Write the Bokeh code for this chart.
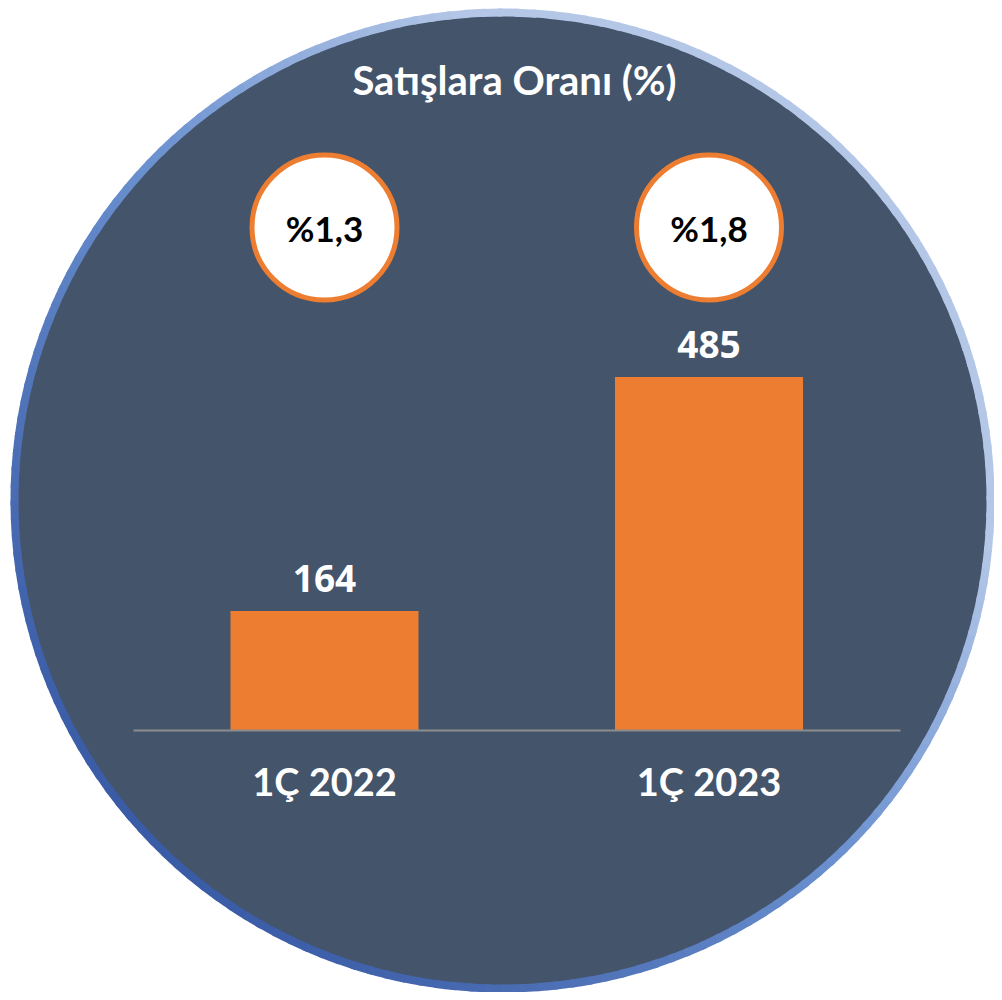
import math
from bokeh.plotting import figure
from bokeh.models import Range1d, Label, ColumnDataSource
from bokeh.core.properties import value
from bokeh.embed import file_html
from bokeh.resources import INLINE

# ---- data ----
categories = ["1Ç 2022", "1Ç 2023"]
values = [164, 485]
ratio_labels = ["%1,3", "%1,8"]
value_labels = [str(v) for v in values]
title_text = "Satışlara Oranı (%)"

# ---- styling ----
BG = "#44546A"
ORANGE = "#ED7D31"
W, H = 994, 992

PX_PER_UNIT_Y = 0.729   # screen px per value unit
BASE_Y = 730            # screen y of the bar baseline (from top)
BAR_CENTER0 = 324       # screen x of first bar centre
BAR_STEP = 384.5        # screen px between bars
BAR_W_PX = 188

def py(y_from_top):
    return H - y_from_top

x_range = Range1d((0 - BAR_CENTER0) / BAR_STEP, (W - BAR_CENTER0) / BAR_STEP)
y_range = Range1d(-(H - BASE_Y) / PX_PER_UNIT_Y, BASE_Y / PX_PER_UNIT_Y)

p = figure(width=W, height=H, x_range=x_range, y_range=y_range,
           x_axis_type=None, y_axis_type=None, output_backend="svg",
           toolbar_location=None, min_border=0)
p.extra_x_ranges = {"px": Range1d(0, W)}
p.extra_y_ranges = {"px": Range1d(0, H)}
p.background_fill_color = "white"
p.border_fill_color = "white"
p.outline_line_color = None
p.grid.visible = False

# ---- big circle background with gradient border ----
cx, cy = 502, py(500)
R_OUT = 492
BORDER = 8
p.circle(x=[cx], y=[cy], radius=R_OUT - BORDER / 2, radius_units="screen",
         fill_color=BG, line_color=None, x_range_name="px", y_range_name="px")

def lerp(c1, c2, t):
    a = [int(c1[i:i + 2], 16) for i in (1, 3, 5)]
    b = [int(c2[i:i + 2], 16) for i in (1, 3, 5)]
    return "#%02x%02x%02x" % tuple(round(a[k] + (b[k] - a[k]) * t) for k in range(3))

def grad(t):
    # t in [-1, 1]: bottom-left dark -> top-right light
    if t < 0:
        return lerp("#3A5BA6", "#6C92D0", t + 1)
    return lerp("#6C92D0", "#B4C7E7", min(1.0, t / 0.65))

N = 180
starts, ends, cols = [], [], []
for i in range(N):
    a0 = 2 * math.pi * i / N
    a1 = 2 * math.pi * (i + 1) / N + 0.01
    am = (a0 + a1) / 2
    t = (math.cos(am) + math.sin(am)) / math.sqrt(2)
    starts.append(a0)
    ends.append(a1)
    cols.append(grad(t))
p.annular_wedge(x=cx, y=cy, inner_radius=R_OUT - BORDER, outer_radius=R_OUT,
                inner_radius_units="screen", outer_radius_units="screen",
                start_angle=starts, end_angle=ends, fill_color=cols, line_color=None,
                x_range_name="px", y_range_name="px")

# ---- bars ----
xs = list(range(len(categories)))
src = ColumnDataSource(dict(x=xs, top=values, cat=categories, lab=value_labels,
                            ratio=ratio_labels,
                            ry=[py(227)] * len(categories)))
p.vbar(x="x", top="top", bottom=0, width=BAR_W_PX / BAR_STEP, source=src,
       fill_color=ORANGE, line_color=None)

# baseline
p.segment(x0=[133], x1=[900], y0=[py(BASE_Y)], y1=[py(BASE_Y)],
          line_color="#8C8C8C", line_width=2, x_range_name="px", y_range_name="px")

# value labels
p.text(x="x", y="top", text="lab", source=src, text_align="center",
       text_baseline="middle", y_offset=-32, text_color="white",
       text_font=value("Open Sans"), text_font_style="bold", text_font_size="37px")

# category labels
p.text(x="x", y=0, text="cat", source=src, text_align="center",
       text_baseline="middle", y_offset=50, text_color="white",
       text_font=value("Lato"), text_font_style="bold", text_font_size="38px")

# ratio circles
p.scatter(x="x", y="ry", source=src, marker="circle", size=145,
          fill_color="white", line_color=ORANGE, line_width=5, y_range_name="px")
p.text(x="x", y="ry", text="ratio", source=src, text_align="center",
       text_baseline="middle", text_color="black",
       text_font=value("Lato"), text_font_style="bold", text_font_size="35px",
       y_range_name="px")

# title
p.add_layout(Label(x=514, y=py(79), text=title_text, text_align="center",
                   text_baseline="middle", text_color="white",
                   text_font="Lato", text_font_style="bold", text_font_size="40px",
                   x_range_name="px", y_range_name="px"))

open("out.html", "w").write(file_html(p, INLINE))
